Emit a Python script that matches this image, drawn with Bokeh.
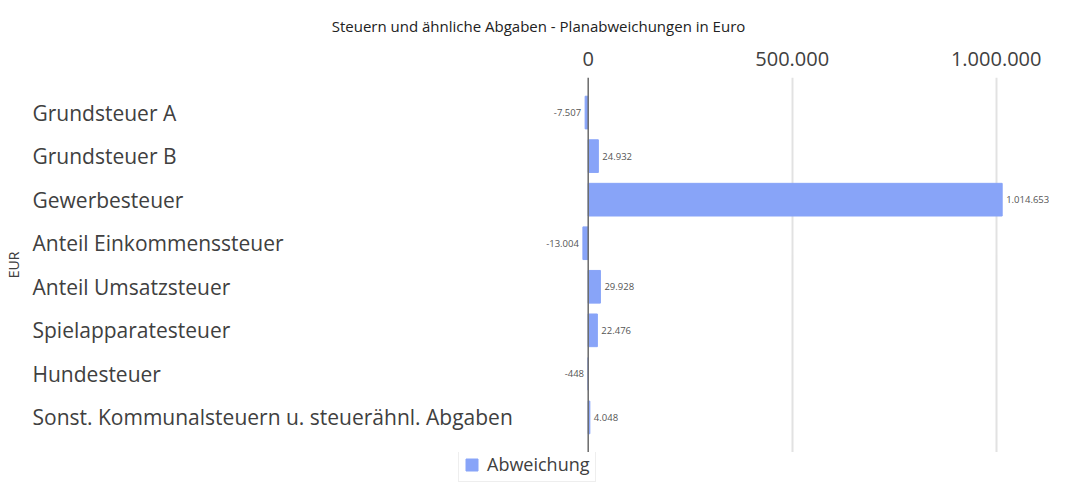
from bokeh.plotting import figure
from bokeh.layouts import column
from bokeh.models import (ColumnDataSource, FactorRange, Range1d, FixedTicker, Span,
                          Legend, LegendItem)
from bokeh.core.properties import value
from bokeh.embed import file_html
from bokeh.resources import INLINE

# ---- data ----
categories = [
    "Grundsteuer A",
    "Grundsteuer B",
    "Gewerbesteuer",
    "Anteil Einkommenssteuer",
    "Anteil Umsatzsteuer",
    "Spielapparatesteuer",
    "Hundesteuer",
    "Sonst. Kommunalsteuern u. steuerähnl. Abgaben",
]
abweichung = [-7507, 24932, 1014653, -13004, 29928, 22476, -448, 4048]
x_ticks = [0, 500000, 1000000]
x_tick_labels = ["0", "500.000", "1.000.000"]
series_name = "Abweichung"
title_text = "Steuern und ähnliche Abgaben - Planabweichungen in Euro"
y_title = "EUR"

# ---- layout constants (pixels) ----
W, H_MAIN, H_LEG = 1049, 452, 30
FRAME_LEFT, FRAME_RIGHT = 27, 1049
ZERO_PX = 587.7
PX_PER_UNIT = 408.0 / 1e6
x_start = (FRAME_LEFT - ZERO_PX) / PX_PER_UNIT
x_end = (FRAME_RIGHT - ZERO_PX) / PX_PER_UNIT

FONT = "Open Sans"
TXT = "#404040"
BAR = "#88a4f8"


def de_fmt(v):
    return f"{v:,}".replace(",", ".")


src = ColumnDataSource(dict(cat=categories, val=abweichung))
pos = [(c, v) for c, v in zip(categories, abweichung) if v >= 0]
neg = [(c, v) for c, v in zip(categories, abweichung) if v < 0]
pos_src = ColumnDataSource(dict(cat=[c for c, _ in pos], val=[v for _, v in pos],
                                lab=[de_fmt(v) for _, v in pos]))
neg_src = ColumnDataSource(dict(cat=[c for c, _ in neg], val=[v for _, v in neg],
                                lab=[de_fmt(v) for _, v in neg]))
cat_src = ColumnDataSource(dict(
    cat=categories,
    x=[x_start + 5 / PX_PER_UNIT] * len(categories),
))

p = figure(width=W, height=H_MAIN, output_backend="svg", toolbar_location=None,
           x_range=Range1d(x_start, x_end),
           y_range=FactorRange(factors=categories[::-1], range_padding=0.305,
                               range_padding_units="absolute"),
           x_axis_location="above",
           min_border_left=FRAME_LEFT, min_border_right=W - FRAME_RIGHT,
           min_border_top=74, min_border_bottom=0)
p.outline_line_color = None
p.background_fill_color = "white"

# title
p.title.text = title_text
p.title.align = "center"
p.title.text_font = FONT
p.title.text_font_size = "15px"
p.title.text_font_style = "normal"
p.title.text_color = "#222222"
p.title.standoff = 26

# x axis (top)
xa = p.xaxis[0]
xa.ticker = FixedTicker(ticks=x_ticks)
xa.major_label_overrides = {t: l for t, l in zip(x_ticks, x_tick_labels)}
xa.axis_line_color = None
xa.major_tick_line_color = None
xa.minor_tick_line_color = None
xa.major_label_text_font = FONT
xa.major_label_text_font_size = "20px"
xa.major_label_text_color = TXT
xa.major_label_standoff = 6

# y axis: only its title is shown (category names are drawn left-aligned below)
ya = p.yaxis[0]
ya.axis_label = y_title
ya.axis_label_text_font = FONT
ya.axis_label_text_font_size = "14px"
ya.axis_label_text_font_style = "normal"
ya.axis_label_text_color = TXT
ya.axis_label_standoff = 5
ya.major_label_overrides = {c: " " for c in categories}
ya.major_label_text_font_size = "1px"
ya.major_label_text_color = None
ya.major_label_standoff = 0
ya.major_tick_line_color = None
ya.major_tick_out = 0
ya.major_tick_in = 0
ya.minor_tick_line_color = None
ya.axis_line_color = None

# grids
p.ygrid.grid_line_color = None
p.xgrid.ticker = FixedTicker(ticks=x_ticks[1:])
p.xgrid.grid_line_color = "#e2e2e2"
p.xgrid.grid_line_width = 2
p.add_layout(Span(location=0, dimension="height", line_color="#6a6a6a", line_width=1.5))

# bars
r = p.hbar(y="cat", right="val", left=0, height=0.75, source=src,
           fill_color=BAR, line_color=BAR, line_width=1)

# data labels
p.text(x="val", y="cat", text="lab", source=pos_src, x_offset=4,
       text_align="left", text_baseline="middle",
       text_font=value(FONT), text_font_size="9.5px", text_color="#555555")
p.text(x="val", y="cat", text="lab", source=neg_src, x_offset=-4,
       text_align="right", text_baseline="middle",
       text_font=value(FONT), text_font_size="9.5px", text_color="#555555")

# category labels (left aligned)
p.text(x="x", y="cat", text="cat", source=cat_src,
       text_align="left", text_baseline="middle",
       text_font=value(FONT), text_font_size="21px", text_color=TXT)

# legend strip below the chart (swatch renderer lies outside the visible range)
lp = figure(width=W, height=H_LEG, output_backend="svg", toolbar_location=None,
            x_axis_location=None, y_axis_location=None, min_border=0,
            x_range=Range1d(0, 1), y_range=Range1d(0, 1))
lp.outline_line_color = None
lp.xgrid.grid_line_color = None
lp.ygrid.grid_line_color = None
lr = lp.hbar(y=[-5], right=[0], left=0, height=0.75,
             fill_color=BAR, line_color=BAR, line_width=1)
legend = Legend(items=[LegendItem(label=series_name, renderers=[lr])],
                location=(431, 0), orientation="horizontal",
                label_text_font=FONT, label_text_font_size="18px",
                label_text_color=TXT, glyph_width=15, glyph_height=15,
                label_height=20, border_line_color="#dddddd", border_line_width=1.5,
                padding=5, margin=0, spacing=0, label_standoff=8)
lp.add_layout(legend)

layout = column(p, lp, spacing=0)
open("out.html", "w").write(file_html(layout, INLINE))
